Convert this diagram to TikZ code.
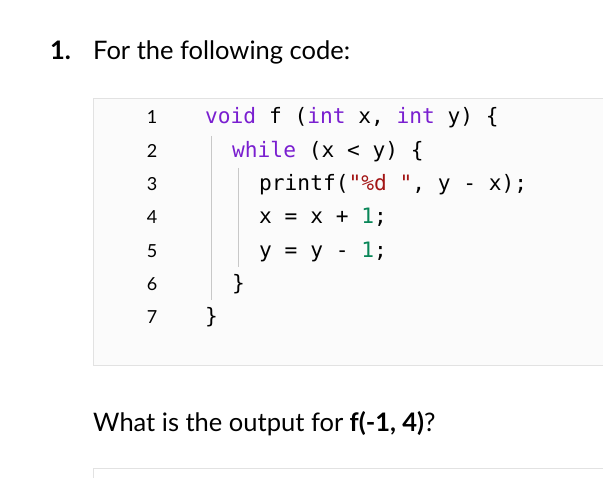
\documentclass[tikz,border=0pt]{standalone}
\usepackage{fontspec}
\setmainfont{Lato}
\setmonofont{DejaVu Sans Mono}
\definecolor{kw}{HTML}{7A1FD0}
\definecolor{str}{HTML}{A31515}
\definecolor{num}{HTML}{098658}
\definecolor{bord}{HTML}{E2E2E2}
\definecolor{guide}{HTML}{C8C8C8}
\tikzset{code/.style={anchor=base west,inner sep=0pt,font=\ttfamily\fontsize{21.2}{22}\selectfont},
 lnum/.style={anchor=base,inner sep=0pt,font=\fontsize{18}{20}\selectfont},
 txt/.style={anchor=base west,inner sep=0pt,font=\fontsize{25.5}{28}\selectfont}}
\begin{document}
\begin{tikzpicture}[x=1pt,y=-1pt]
\useasboundingbox (0,0) rectangle (603,478);
\node[txt] (h1) at (50,60) {\textbf{1.}};
\node[txt] (h) at (93,60) {For the following code:};
\draw[bord,fill=black!1.5] (93,98) rectangle (610,365);
\foreach \i/\n in {1/1,2/2,3/3,4/4,5/5,6/6,7/7}
  \node[lnum] (n\i) at (152,{124+33.3*(\i-1)}) {\n};
\draw[guide,line width=1pt] (211,136) -- (211,300);
\draw[guide,line width=1pt] (238,168) -- (238,267);
\node[code] (c1) at (205,124) {\textcolor{kw}{void} f (\textcolor{kw}{int} x, \textcolor{kw}{int} y) \{};
\node[code] (c2) at (232,157.3) {\textcolor{kw}{while} (x < y) \{};
\node[code] (c3) at (259,190.6) {printf(\textcolor{str}{"\%d "}, y - x);};
\node[code] (c4) at (259,223.9) {x = x + \textcolor{num}{1};};
\node[code] (c5) at (259,257.2) {y = y - \textcolor{num}{1};};
\node[code] (c6) at (232,290.5) {\}};
\node[code] (c7) at (205,323.8) {\}};
\node[txt] (q) at (93,432) {What is the output for \textbf{f(-1, 4)}?};
\draw[bord] (93,478) -- (93,468) -- (610,468);
\end{tikzpicture}
\end{document}
